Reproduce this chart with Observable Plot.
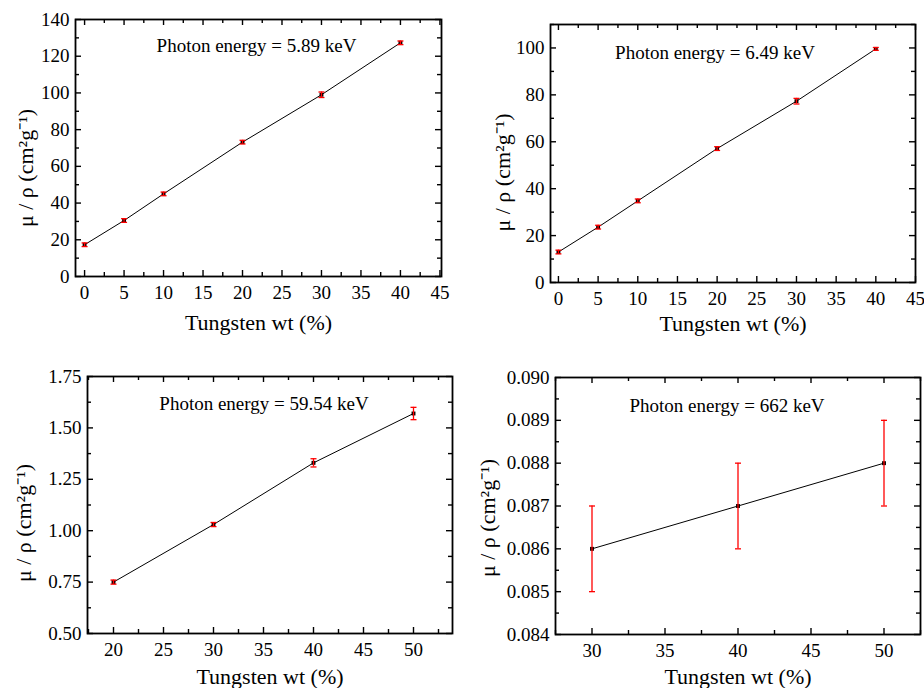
<!DOCTYPE html>
<html>
<head>
<meta charset="utf-8">
<script src="https://cdn.jsdelivr.net/npm/d3@7"></script>
<script src="https://cdn.jsdelivr.net/npm/@observablehq/plot@0.6"></script>
<style>
  html, body { margin: 0; padding: 0; background: #fff; }
  #wrap { position: relative; width: 924px; height: 688px; overflow: hidden; background: #fff; }
  .panel { position: absolute; }
  .panel svg { display: block; font-family: "Liberation Serif", "Times New Roman", serif !important; }
  .panel svg text { font-family: "Liberation Serif", "Times New Roman", serif !important; }
</style>
</head>
<body>
<div id="wrap"></div>
<script>
// ---- Data ----
const wtA = [0, 5, 10, 20, 30, 40];
const mu589 = [17.3, 30.5, 45.0, 73.2, 99.0, 127.3];
const err589 = [1.0, 1.0, 1.0, 1.0, 1.5, 1.0];
const mu649 = [13.0, 23.6, 34.8, 57.1, 77.3, 99.6];
const err649 = [0.8, 0.8, 0.8, 0.8, 1.2, 0.6];
const wtB = [20, 30, 40, 50];
const mu5954 = [0.75, 1.03, 1.33, 1.57];
const err5954 = [0.01, 0.01, 0.02, 0.03];
const wtC = [30, 40, 50];
const mu662 = [0.086, 0.087, 0.088];
const err662 = [0.001, 0.001, 0.001];

// ---- Tick labels ----
const xTicksA = [0, 5, 10, 15, 20, 25, 30, 35, 40, 45];
const yTicks589 = [0, 20, 40, 60, 80, 100, 120, 140];
const yTicks649 = [0, 20, 40, 60, 80, 100];
const xTicksB = [20, 25, 30, 35, 40, 45, 50];
const yTicks5954 = [0.50, 0.75, 1.00, 1.25, 1.50, 1.75];
const xTicksC = [30, 35, 40, 45, 50];
const yTicks662 = [0.084, 0.085, 0.086, 0.087, 0.088, 0.089, 0.090];

const titles = ["Photon energy = 5.89 keV", "Photon energy = 6.49 keV", "Photon energy = 59.54 keV", "Photon energy = 662 keV"];
const xTitle = "Tungsten wt (%)";
const yTitle = "μ / ρ (cm²g⁻¹)";

const FONT = "'Liberation Serif', 'Times New Roman', serif";

const capSymbol = {
  draw(ctx, size) {
    const w = Math.sqrt(size / Math.PI);
    ctx.moveTo(-w, 0);
    ctx.lineTo(w, 0);
  }
};

function minorsOf(major, step, domain) {
  const out = [];
  const lo = Math.min(...domain), hi = Math.max(...domain);
  const start = major[0] - step * Math.ceil((major[0] - lo) / step);
  for (let v = start; v <= hi + 1e-12; v += step) {
    const r = +v.toFixed(6);
    if (r >= lo - 1e-9 && r <= hi + 1e-9) out.push(r);
  }
  return out;
}

const panels = [
  {left: 0, top: 0, width: 460, height: 340, m: [19, 19, 64, 75],
   x: wtA, y: mu589, e: err589, xDomain: [-1.15, 45.2], yDomain: [0, 140],
   xTicks: xTicksA, yTicks: yTicks589, xMinorStep: 2.5, yMinorStep: 10,
   yFmt: d => d3.format("d")(d), xFmt: d => d3.format("d")(d),
   title: titles[0], tdx: -2, tdy: 26, ylDx: -50, ylDy: 20, xlDy: 46},
  {left: 460, top: 0, width: 464, height: 340, m: [24, 9, 58, 90],
   x: wtA, y: mu649, e: err649, xDomain: [-1, 45], yDomain: [0, 110],
   xTicks: xTicksA, yTicks: yTicks649, xMinorStep: 2.5, yMinorStep: 10,
   yFmt: d => d3.format("d")(d), xFmt: d => d3.format("d")(d),
   title: titles[1], tdx: -18, tdy: 28, ylDx: -48, ylDy: 19, xlDy: 41},
  {left: 0, top: 340, width: 460, height: 348, m: [36, 8, 55, 87],
   x: wtB, y: mu5954, e: err5954, xDomain: [17.4, 53.9], yDomain: [0.5, 1.75],
   xTicks: xTicksB, yTicks: yTicks5954, xMinorStep: 2.5, yMinorStep: 0.125,
   yFmt: d => d3.format(".2f")(d), xFmt: d => d3.format("d")(d),
   title: titles[2], tdx: -6, tdy: 27, ylDx: -64, ylDy: 18, xlDy: 43},
  {left: 460, top: 340, width: 464, height: 348, m: [37, 4, 54, 95],
   x: wtC, y: mu662, e: err662, xDomain: [27.5, 52.5], yDomain: [0.084, 0.090],
   xTicks: xTicksC, yTicks: yTicks662, xMinorStep: 2.5, yMinorStep: 0.0005,
   yFmt: d => d3.format(".3f")(d), xFmt: d => d3.format("d")(d),
   title: titles[3], tdx: -11, tdy: 28, ylDx: -68, ylDy: 12, xlDy: 42}
];

const wrap = document.getElementById("wrap");

for (const p of panels) {
  const [mt, mr, mb, ml] = p.m;
  const innerH = p.height - mt - mb;
  const innerW = p.width - ml - mr;
  const rows = p.x.map((x, i) => ({x, y: p.y[i], lo: p.y[i] - p.e[i], hi: p.y[i] + p.e[i]}));
  const inDom = (v, dom) => v >= Math.min(...dom) - 1e-9 && v <= Math.max(...dom) + 1e-9;
  const xMaj = p.xTicks.filter(v => inDom(v, p.xDomain));
  const yMaj = p.yTicks.filter(v => inDom(v, p.yDomain));
  const xMin = minorsOf(p.xTicks, p.xMinorStep, p.xDomain).filter(v => !xMaj.some(t => Math.abs(t - v) < 1e-9));
  const yMin = minorsOf(p.yTicks, p.yMinorStep, p.yDomain).filter(v => !yMaj.some(t => Math.abs(t - v) < 1e-9));
  const MAJ = 6, MIN = 4, TW = 1.4;

  const chart = Plot.plot({
    width: p.width, height: p.height,
    marginTop: mt, marginRight: mr, marginBottom: mb, marginLeft: ml,
    style: {fontFamily: FONT, fontSize: "19px", background: "white", color: "black"},
    x: {domain: p.xDomain},
    y: {domain: p.yDomain},
    marks: [
      Plot.axisX({anchor: "bottom", ticks: xMaj, tickSize: 0, tickPadding: 9, tickFormat: p.xFmt, label: null, fontSize: 19}),
      Plot.axisY({anchor: "left", ticks: yMaj, tickSize: 0, tickPadding: 6, tickFormat: p.yFmt, label: null, fontSize: 19}),
      Plot.ruleX(xMaj, {x: d => d, insetTop: innerH - MAJ, stroke: "black", strokeWidth: TW}),
      Plot.ruleX(xMaj, {x: d => d, insetBottom: innerH - MAJ, stroke: "black", strokeWidth: TW}),
      Plot.ruleX(xMin, {x: d => d, insetTop: innerH - MIN, stroke: "black", strokeWidth: TW}),
      Plot.ruleX(xMin, {x: d => d, insetBottom: innerH - MIN, stroke: "black", strokeWidth: TW}),
      Plot.ruleY(yMaj, {y: d => d, insetRight: innerW - MAJ, stroke: "black", strokeWidth: TW}),
      Plot.ruleY(yMaj, {y: d => d, insetLeft: innerW - MAJ, stroke: "black", strokeWidth: TW}),
      Plot.ruleY(yMin, {y: d => d, insetRight: innerW - MIN, stroke: "black", strokeWidth: TW}),
      Plot.ruleY(yMin, {y: d => d, insetLeft: innerW - MIN, stroke: "black", strokeWidth: TW}),
      Plot.frame({stroke: "black", strokeWidth: 1.8}),
      Plot.line(rows, {x: "x", y: "y", stroke: "black", strokeWidth: 1}),
      Plot.dot(rows, {x: "x", y: "y", symbol: "square", r: 2.2, fill: "black", stroke: "none"}),
      Plot.ruleX(rows, {x: "x", y1: "lo", y2: "hi", stroke: "#ff0000", strokeWidth: 1.3}),
      Plot.dot(rows, {x: "x", y: "lo", symbol: capSymbol, r: 3, stroke: "#ff0000", strokeWidth: 1.3, fill: "none"}),
      Plot.dot(rows, {x: "x", y: "hi", symbol: capSymbol, r: 3, stroke: "#ff0000", strokeWidth: 1.3, fill: "none"}),
      Plot.text([p.title], {frameAnchor: "top", dx: p.tdx, dy: p.tdy, text: d => d, fontSize: 19, fill: "black", textAnchor: "middle", lineAnchor: "middle"}),
      Plot.text([xTitle], {frameAnchor: "bottom", dy: p.xlDy, text: d => d, fontSize: 22, fill: "black", textAnchor: "middle", lineAnchor: "middle"}),
      Plot.text([yTitle], {frameAnchor: "left", dx: p.ylDx, dy: p.ylDy, rotate: -90, text: d => d, fontSize: 22, fill: "black", textAnchor: "middle", lineAnchor: "middle"})
    ]
  });
  const div = document.createElement("div");
  div.className = "panel";
  div.style.left = p.left + "px";
  div.style.top = p.top + "px";
  div.appendChild(chart);
  wrap.appendChild(div);
}
</script>
</body>
</html>
